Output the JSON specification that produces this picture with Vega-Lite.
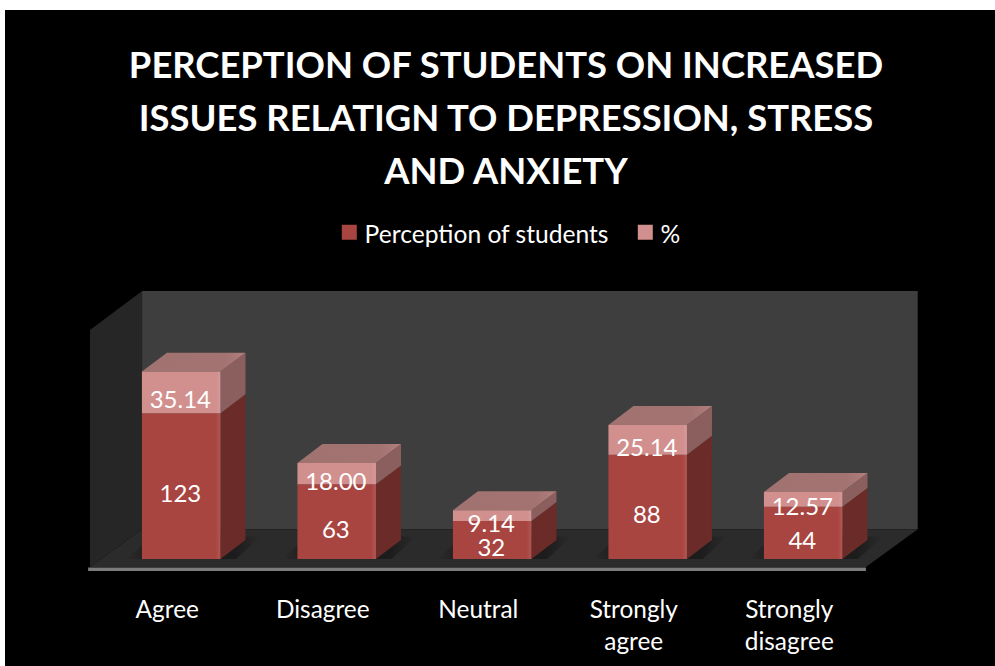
{
  "$schema": "https://vega.github.io/schema/vega-lite/v6.json",
  "width": 990,
  "height": 656,
  "autosize": {"type": "none"},
  "padding": {"left": 5, "top": 10, "right": 0, "bottom": 0},
  "background": "#ffffff",
  "view": {"fill": "#000000", "stroke": null},
  "title": {
    "text": ["PERCEPTION OF STUDENTS ON INCREASED", "ISSUES RELATIGN TO DEPRESSION, STRESS", "AND ANXIETY"],
    "anchor": "middle",
    "frame": "group",
    "dx": 6,
    "offset": -181,
    "color": "#ffffff",
    "font": "Lato",
    "fontSize": 36.4,
    "fontWeight": "bold",
    "lineHeight": 53
  },
  "config": {"text": {"font": "Lato"}},
  "datasets": {
    "responses": [
      {"category": "Agree", "series": "Perception of students", "value": 123},
      {"category": "Agree", "series": "%", "value": 35.14},
      {"category": "Disagree", "series": "Perception of students", "value": 63},
      {"category": "Disagree", "series": "%", "value": 18.0},
      {"category": "Neutral", "series": "Perception of students", "value": 32},
      {"category": "Neutral", "series": "%", "value": 9.14},
      {"category": "Strongly agree", "series": "Perception of students", "value": 88},
      {"category": "Strongly agree", "series": "%", "value": 25.14},
      {"category": "Strongly disagree", "series": "Perception of students", "value": 44},
      {"category": "Strongly disagree", "series": "%", "value": 12.57}
    ],
    "walls": [
      {"plane": "left", "u": 0, "low": -6.75, "high": 193.2},
      {"plane": "left", "u": 0.335, "low": 25.06, "high": 226.2},
      {"plane": "back", "u": 0.335, "low": 25.06, "high": 226.2},
      {"plane": "back", "u": 5.323, "low": 25.06, "high": 226.2}
    ],
    "floor": [
      {"v": -6.75, "from": 0, "to": 4.99},
      {"v": 25.06, "from": 0.335, "to": 5.323}
    ],
    "baseline": [
      {"from": -0.012, "to": 4.99, "top": -7.2, "bottom": -10.2}
    ]
  },
  "data": {"name": "responses"},
  "transform": [
    {"calculate": "indexof(['Agree','Disagree','Neutral','Strongly agree','Strongly disagree'], datum.category)", "as": "slot"},
    {"stack": "value", "groupby": ["category"], "sort": [{"field": "series", "order": "descending"}], "as": ["v0", "v1"]},
    {"calculate": "datum.slot + 0.334", "as": "uL"},
    {"calculate": "datum.uL + 0.505", "as": "uR"},
    {"calculate": "datum.uL + 0.247", "as": "uMid"},
    {"calculate": "(datum.v0 + datum.v1) / 2", "as": "vMid"},
    {"calculate": "format(datum.value, datum.series === '%' ? '.2f' : 'd')", "as": "valueText"}
  ],
  "encoding": {},
  "layer": [
    {
      "data": {"name": "walls"},
      "transform": [{"filter": "datum.plane === 'left'"}],
      "mark": {"type": "area", "color": "#262626"},
      "encoding": {
        "x": {"field": "u", "type": "quantitative", "axis": null, "scale": {"domain": [-0.5466, 5.82], "nice": false, "zero": false}},
        "y": {"field": "low", "type": "quantitative", "axis": null, "stack": null, "scale": {"domain": [-90.3, 463.3], "nice": false, "zero": false}},
        "y2": {"field": "high"}
      }
    },
    {
      "data": {"name": "walls"},
      "transform": [{"filter": "datum.plane === 'back'"}],
      "mark": {"type": "area", "color": "#3e3e3e"},
      "encoding": {
        "x": {"field": "u", "type": "quantitative"},
        "y": {"field": "low", "type": "quantitative", "stack": null},
        "y2": {"field": "high"}
      }
    },
    {
      "data": {"name": "floor"},
      "mark": {"type": "area", "orient": "horizontal", "color": "#2b2b2b"},
      "encoding": {
        "y": {"field": "v", "type": "quantitative", "stack": null},
        "x": {"field": "from", "type": "quantitative"},
        "x2": {"field": "to"}
      }
    },
    {
      "data": {"name": "baseline"},
      "mark": {"type": "rect", "color": "#7c7c7c"},
      "encoding": {
        "x": {"field": "from", "type": "quantitative"},
        "x2": {"field": "to"},
        "y": {"field": "top", "type": "quantitative"},
        "y2": {"field": "bottom"}
      }
    },
    {
      "description": "Soft floor shadow under each column",
      "transform": [
        {"filter": "datum.series !== '%'"},
        {"calculate": "[0, 1]", "as": "t"},
        {"flatten": ["t"]},
        {"calculate": "datum.t * 19", "as": "shadowV"},
        {"calculate": "datum.uL - 0.1 + datum.t * 0.161", "as": "shadowFrom"},
        {"calculate": "datum.uR + 0.1 + datum.t * 0.161", "as": "shadowTo"}
      ],
      "mark": {
        "type": "area",
        "orient": "horizontal",
        "fill": {
          "gradient": "linear", "x1": 0, "x2": 1, "y1": 0, "y2": 0,
          "stops": [
            {"offset": 0, "color": "#2b2b2b"},
            {"offset": 0.2, "color": "#1c1c1c"},
            {"offset": 0.8, "color": "#1c1c1c"},
            {"offset": 1, "color": "#2b2b2b"}
          ]
        }
      },
      "encoding": {
        "detail": {"field": "category"},
        "y": {"field": "shadowV", "type": "quantitative", "stack": null},
        "x": {"field": "shadowFrom", "type": "quantitative"},
        "x2": {"field": "shadowTo"}
      }
    },
    {
      "description": "Right-hand side face of each stacked segment",
      "transform": [
        {"calculate": "[0, 1]", "as": "t"},
        {"flatten": ["t"]},
        {"calculate": "datum.uR + datum.t * 0.161", "as": "sideU"},
        {"calculate": "datum.v0 + datum.t * 16", "as": "sideLow"},
        {"calculate": "datum.v1 + datum.t * 16", "as": "sideHigh"},
        {"calculate": "datum.category + datum.series", "as": "segment"}
      ],
      "mark": {"type": "area"},
      "encoding": {
        "detail": {"field": "segment"},
        "color": {"condition": {"test": "datum.series === '%'", "value": "#8a5f5d"}, "value": "#6b2b28"},
        "x": {"field": "sideU", "type": "quantitative"},
        "y": {"field": "sideLow", "type": "quantitative", "stack": null},
        "y2": {"field": "sideHigh"}
      }
    },
    {
      "description": "Top face of each column",
      "transform": [
        {"filter": "datum.series === '%'"},
        {"calculate": "[0, 1]", "as": "t"},
        {"flatten": ["t"]},
        {"calculate": "datum.v1 + datum.t * 16", "as": "topV"},
        {"calculate": "datum.uL + datum.t * 0.161", "as": "topFrom"},
        {"calculate": "datum.uR + datum.t * 0.161", "as": "topTo"}
      ],
      "mark": {
        "type": "area",
        "orient": "horizontal",
        "fill": {
          "gradient": "linear", "x1": 0, "x2": 1, "y1": 0, "y2": 0,
          "stops": [
            {"offset": 0, "color": "#a07270"},
            {"offset": 0.8, "color": "#a27371"},
            {"offset": 1, "color": "#b27f7d"}
          ]
        }
      },
      "encoding": {
        "detail": {"field": "category"},
        "y": {"field": "topV", "type": "quantitative", "stack": null},
        "x": {"field": "topFrom", "type": "quantitative"},
        "x2": {"field": "topTo"}
      }
    },
    {
      "description": "Front face of each stacked segment",
      "mark": {"type": "rect"},
      "encoding": {
        "x": {"field": "uL", "type": "quantitative"},
        "x2": {"field": "uR"},
        "y": {"field": "v0", "type": "quantitative"},
        "y2": {"field": "v1"},
        "color": {
          "field": "series",
          "type": "nominal",
          "scale": {"domain": ["Perception of students", "%"], "range": ["#a94541", "#d18f8e"]},
          "legend": {
            "title": null,
            "orient": "none",
            "legendX": 332,
            "legendY": 208,
            "direction": "horizontal",
            "columns": 2,
            "symbolType": "square",
            "symbolSize": 225,
            "symbolStrokeWidth": 0,
            "labelColor": "#ffffff",
            "labelFont": "Lato",
            "labelFontSize": 24.6,
            "labelLimit": 400,
            "labelOffset": 3,
            "columnPadding": 24,
            "clipHeight": 28,
            "encoding": {"labels": {"dy": {"value": 4}}}
          }
        }
      }
    },
    {
      "description": "Lighter bevel along the right edge of the front faces",
      "mark": {
        "type": "rect",
        "fill": {
          "gradient": "linear", "x1": 0, "x2": 1, "y1": 0, "y2": 0,
          "stops": [
            {"offset": 0, "color": "rgba(255,255,255,0)"},
            {"offset": 0.94, "color": "rgba(255,255,255,0)"},
            {"offset": 1, "color": "rgba(255,255,255,0.1)"}
          ]
        }
      },
      "encoding": {
        "x": {"field": "uL", "type": "quantitative"},
        "x2": {"field": "uR"},
        "y": {"field": "v0", "type": "quantitative"},
        "y2": {"field": "v1"}
      }
    },
    {
      "description": "Value labels on the front faces",
      "mark": {"type": "text", "color": "#ffffff", "fontSize": 24, "baseline": "middle", "dy": 9},
      "encoding": {
        "x": {"field": "uMid", "type": "quantitative"},
        "y": {"field": "vMid", "type": "quantitative"},
        "text": {"field": "valueText", "type": "nominal"}
      }
    },
    {
      "description": "Category names under the floor",
      "transform": [
        {"filter": "datum.series === '%'"},
        {"calculate": "datum.slot + 0.497", "as": "labelU"},
        {"calculate": "-50", "as": "labelV"}
      ],
      "mark": {"type": "text", "color": "#ffffff", "fontSize": 24.4, "baseline": "alphabetic", "lineBreak": " ", "lineHeight": 32},
      "encoding": {
        "x": {"field": "labelU", "type": "quantitative"},
        "y": {"field": "labelV", "type": "quantitative"},
        "text": {"field": "category", "type": "nominal"}
      }
    }
  ]
}
